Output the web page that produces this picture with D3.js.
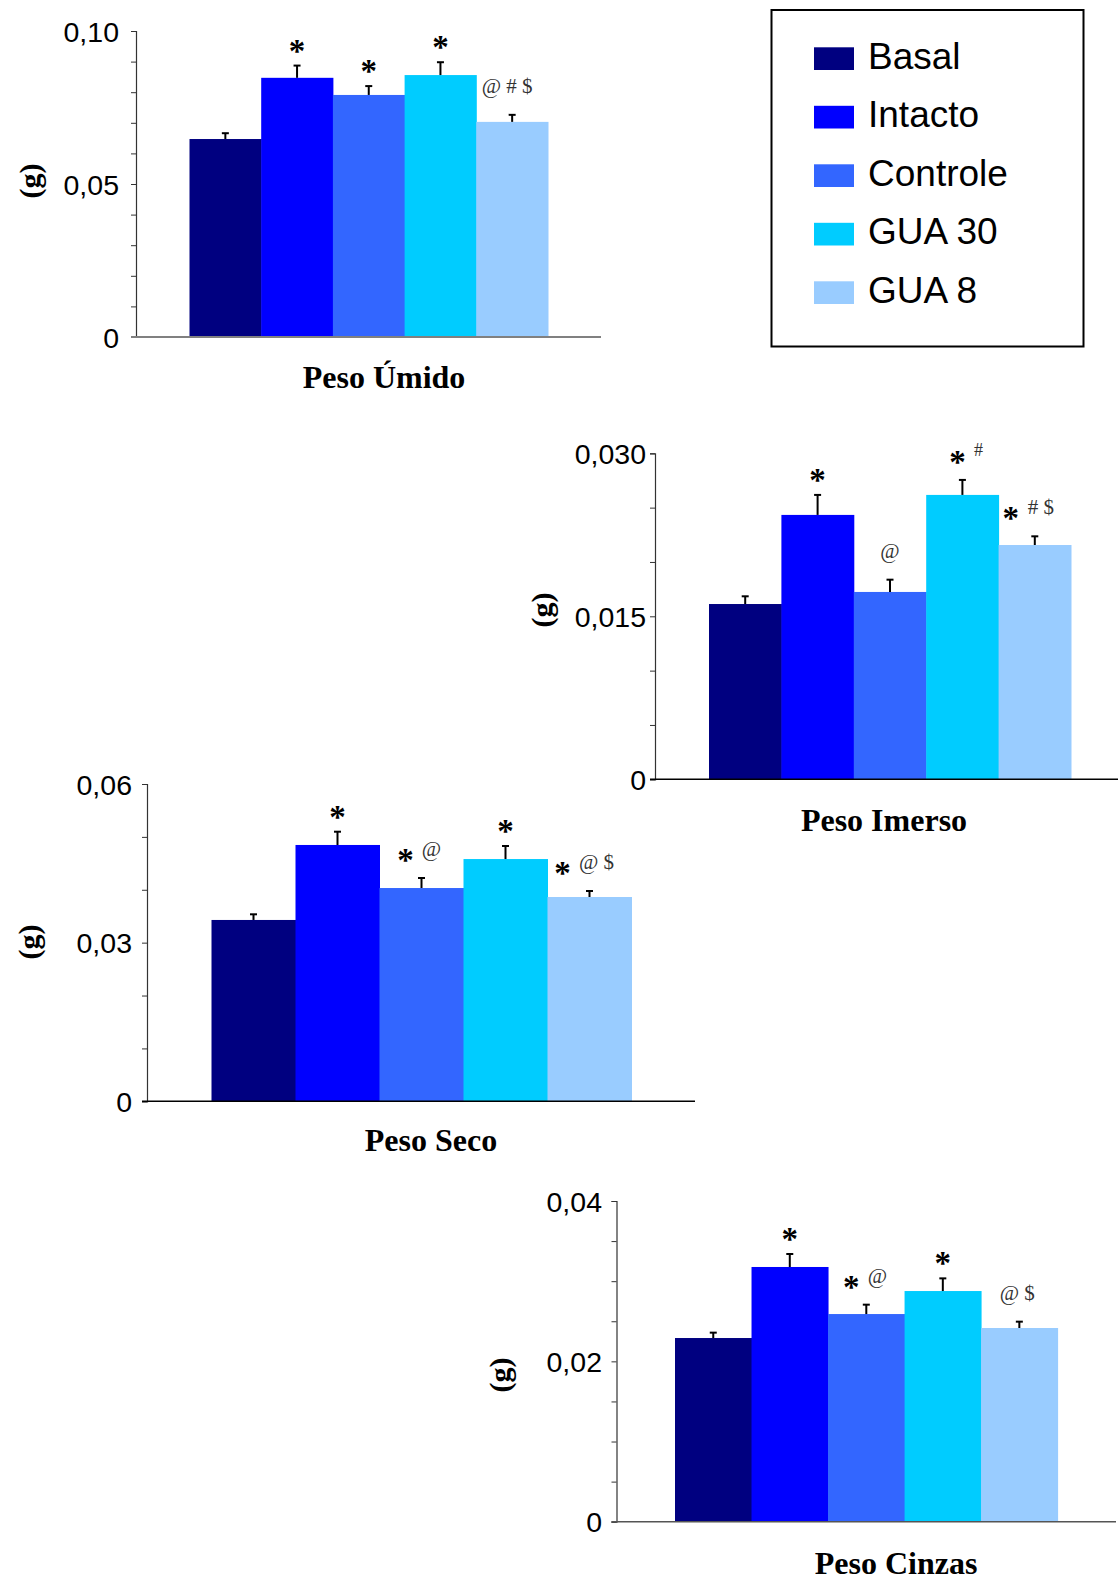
<!DOCTYPE html>
<html><head><meta charset="utf-8">
<script src="https://cdn.jsdelivr.net/npm/d3@7"></script>
<style>
html,body{margin:0;padding:0;background:#fff;}
svg{display:block;}
</style></head>
<body>
<script>
// ---------- DATA ----------
const categories = ["Basal", "Intacto", "Controle", "GUA 30", "GUA 8"];
const groupColors = ["#000080", "#0000FF", "#3366FF", "#00CCFF", "#99CCFF"];

const umidoMeans  = [0.0647, 0.0847, 0.0791, 0.0856, 0.0703];
const umidoErr    = [0.0019, 0.0040, 0.0029, 0.0042, 0.0023];
const imersoMeans = [0.01613, 0.02433, 0.01724, 0.02617, 0.02156];
const imersoErr   = [0.00071, 0.00184, 0.00113, 0.00138, 0.00080];
const secoMeans   = [0.03429, 0.04847, 0.04033, 0.04581, 0.03863];
const secoErr     = [0.00107, 0.00251, 0.00190, 0.00247, 0.00114];
const cinzasMeans = [0.02291, 0.03177, 0.02590, 0.02877, 0.02416];
const cinzasErr   = [0.00067, 0.00162, 0.00117, 0.00158, 0.00079];

const umidoStars  = [false, true, true, true, false];
const umidoMarks  = ["", "", "", "", "@ # $"];
const imersoStars = [false, true, false, true, true];
const imersoMarks = ["", "", "@", "#", "# $"];
const secoStars   = [false, true, true, true, true];
const secoMarks   = ["", "", "@", "", "@ $"];
const cinzasStars = [false, true, true, true, false];
const cinzasMarks = ["", "", "@", "", "@ $"];

const umidoTicks  = [0, 0.05, 0.10];
const umidoTickLabels  = ["0", "0,05", "0,10"];
const imersoTicks = [0, 0.015, 0.030];
const imersoTickLabels = ["0", "0,015", "0,030"];
const secoTicks   = [0, 0.03, 0.06];
const secoTickLabels   = ["0", "0,03", "0,06"];
const cinzasTicks = [0, 0.02, 0.04];
const cinzasTickLabels = ["0", "0,02", "0,04"];

const titles = ["Peso Úmido", "Peso Imerso", "Peso Seco", "Peso Cinzas"];
const yLabel = "(g)";

// ---------- LAYOUT ----------
const panels = [
  {title: titles[0], means: umidoMeans, err: umidoErr, stars: umidoStars, marks: umidoMarks,
   ticks: umidoTicks, tickLabels: umidoTickLabels, minor: 0.01,
   axisX: 136, yTop: 31, y0: 337, xEnd: 601, barL: 189.5, barR: 548, labelPad: 12,
   xAxisColor: "#808080", xAxisWidth: 2,
   ylab: [29, 181], titleXY: [384, 388],
   offs: [[0,0],[0,0],[0,0],[0,0],[0,-5]]},
  {title: titles[1], means: imersoMeans, err: imersoErr, stars: imersoStars, marks: imersoMarks,
   ticks: imersoTicks, tickLabels: imersoTickLabels, minor: 0.005,
   axisX: 655, yTop: 453.3, y0: 779.3, xEnd: 1118, barL: 709, barR: 1071, labelPad: 4,
   xAxisColor: "#000", xAxisWidth: 1.5,
   ylab: [541, 610], titleXY: [884, 831],
   offs: [[0,0],[0,0],[0,0],[-5,16],[-24,6]]},
  {title: titles[2], means: secoMeans, err: secoErr, stars: secoStars, marks: secoMarks,
   ticks: secoTicks, tickLabels: secoTickLabels, minor: 0.01,
   axisX: 147, yTop: 784, y0: 1101.3, xEnd: 695, barL: 211.5, barR: 631.5, labelPad: 10,
   xAxisColor: "#000", xAxisWidth: 1.5,
   ylab: [28, 942], titleXY: [431, 1151],
   offs: [[0,0],[0,0],[-16,10],[0,0],[-27,7]]},
  {title: titles[3], means: cinzasMeans, err: cinzasErr, stars: cinzasStars, marks: cinzasMarks,
   ticks: cinzasTicks, tickLabels: cinzasTickLabels, minor: 0.005,
   axisX: 616.5, yTop: 1201, y0: 1521.7, xEnd: 1116, barL: 675, barR: 1057.6, labelPad: 9.5,
   xAxisColor: "#555", xAxisWidth: 1.5,
   ylab: [499, 1375], titleXY: [896, 1574],
   offs: [[0,0],[0,0],[-15,11],[0,0],[0,-2]]}
];

const W = 1118, H = 1580;
const svg = d3.select("body").append("svg").attr("width", W).attr("height", H);
const SERIF = "Liberation Serif, Times New Roman, serif";
const SANS = "Liberation Sans, Arial, sans-serif";

panels.forEach(p => {
  const g = svg.append("g");
  const ymax = p.ticks[p.ticks.length - 1];
  const y = d3.scaleLinear().domain([0, ymax]).range([p.y0, p.yTop]);
  const x = d3.scaleBand().domain(categories).range([p.barL, p.barR]).padding(0);

  // y axis
  const tickVals = d3.range(0, ymax + p.minor / 2, p.minor);
  const fmt = v => {
    const i = p.ticks.findIndex(t => Math.abs(t - v) < 1e-9);
    return i >= 0 ? p.tickLabels[i] : "";
  };
  const ax = g.append("g").attr("transform", `translate(${p.axisX},0)`)
    .call(d3.axisLeft(y).tickValues(tickVals).tickFormat(fmt).tickSize(5).tickPadding(p.labelPad));
  ax.select(".domain").attr("stroke", "#333").attr("stroke-width", 1.2);
  ax.selectAll(".tick line").attr("stroke", "#333").attr("stroke-width", 1);
  ax.selectAll(".tick text").attr("font-family", SANS)
    .attr("font-size", 28.5).attr("fill", "#000").attr("dy", "0.36em");

  // bars
  g.selectAll("rect.bar").data(categories).enter().append("rect")
    .attr("class", "bar")
    .attr("x", d => x(d))
    .attr("width", x.bandwidth() + 0.5)
    .attr("y", (d, i) => y(p.means[i]))
    .attr("height", (d, i) => p.y0 - y(p.means[i]))
    .attr("fill", (d, i) => groupColors[i]);

  // x axis line
  g.append("line").attr("x1", p.axisX - 5).attr("x2", p.xEnd)
    .attr("y1", p.y0).attr("y2", p.y0)
    .attr("stroke", p.xAxisColor).attr("stroke-width", p.xAxisWidth);

  // error bars + significance marks
  categories.forEach((c, i) => {
    const cx = x(c) + x.bandwidth() / 2;
    const yt = y(p.means[i] + p.err[i]);
    g.append("line").attr("x1", cx).attr("x2", cx).attr("y1", y(p.means[i])).attr("y2", yt)
      .attr("stroke", "#000").attr("stroke-width", 2);
    g.append("line").attr("x1", cx - 3.5).attr("x2", cx + 3.5).attr("y1", yt).attr("y2", yt)
      .attr("stroke", "#000").attr("stroke-width", 2);

    const hasStar = p.stars[i], mk = p.marks[i];
    const [sdx, mdx] = p.offs[i];
    if (hasStar) {
      const center = yt - (mk ? 23 : 20);
      g.append("text").attr("x", cx + sdx).attr("y", center + 16)
        .attr("text-anchor", "middle")
        .attr("font-family", SERIF)
        .attr("font-weight", "bold").attr("font-size", 33).attr("fill", "#000")
        .text("*");
    }
    if (mk) {
      const small = mk === "#";
      const center = yt - (small ? 30 : 28);
      g.append("text").attr("x", cx + mdx).attr("y", center + 6)
        .attr("text-anchor", "middle")
        .attr("font-family", SERIF)
        .attr("font-size", small ? 18 : 21).attr("fill", "#333")
        .text(mk);
    }
  });

  // y label
  g.append("text").attr("transform", `translate(${p.ylab[0]},${p.ylab[1]}) rotate(-90)`)
    .attr("text-anchor", "middle").attr("dominant-baseline", "central")
    .attr("font-family", SERIF)
    .attr("font-weight", "bold").attr("font-size", 30).text(yLabel);

  // title
  g.append("text").attr("x", p.titleXY[0]).attr("y", p.titleXY[1])
    .attr("text-anchor", "middle")
    .attr("font-family", SERIF)
    .attr("font-weight", "bold").attr("font-size", 32).text(p.title);
});

// legend
const lg = svg.append("g");
lg.append("rect").attr("x", 771.5).attr("y", 10).attr("width", 312).attr("height", 336.5)
  .attr("fill", "none").attr("stroke", "#000").attr("stroke-width", 2);
categories.forEach((c, i) => {
  const top = 47.3 + i * 58.5;
  lg.append("rect").attr("x", 814).attr("y", top).attr("width", 40).attr("height", 22.7)
    .attr("fill", groupColors[i]);
  lg.append("text").attr("x", 868).attr("y", top + 21.5)
    .attr("font-family", SANS).attr("font-size", 37)
    .attr("fill", "#000").text(c);
});
</script>
</body></html>
